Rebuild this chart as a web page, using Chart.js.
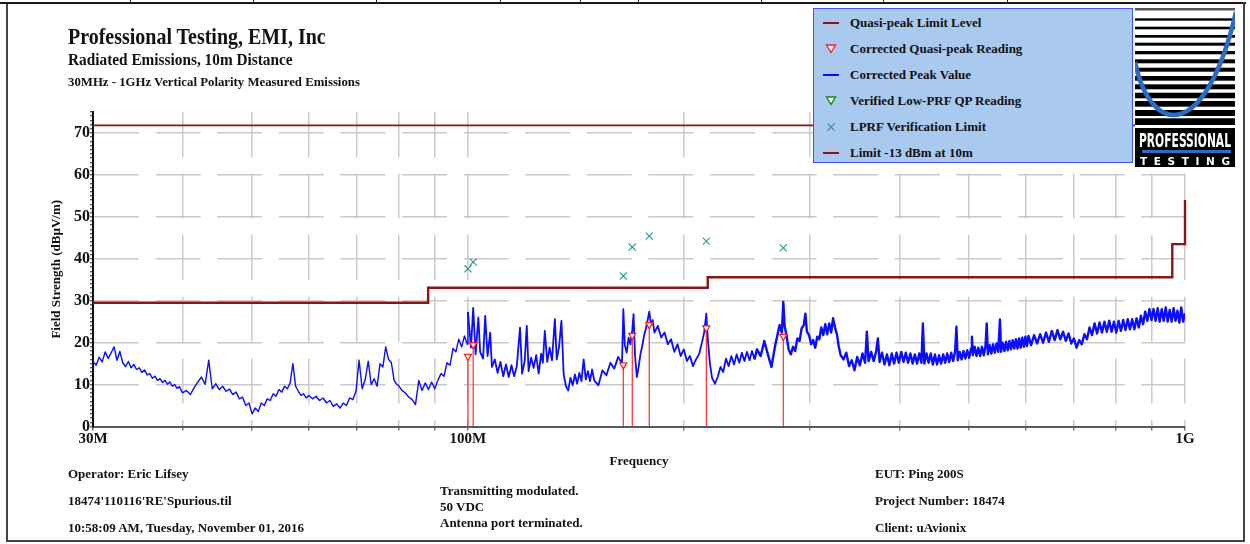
<!DOCTYPE html>
<html>
<head>
<meta charset="utf-8">
<script src="https://cdn.jsdelivr.net/npm/chart.js@4.4.1/dist/chart.umd.min.js"></script>
<style>
  html, body { margin: 0; padding: 0; background: #fff; }
  #page { position: relative; width: 1250px; height: 544px; overflow: hidden;
          font-family: "Liberation Serif", "Times New Roman", serif; font-weight: bold; color: #111; }
  #c { position: absolute; left: 0; top: 0; }
  .t { position: absolute; white-space: nowrap; line-height: 1; }
  .rule { position: absolute; background: #1a1a1a; }
  #legend { position: absolute; left: 813px; top: 8px; width: 318px; height: 153px;
            background: #a9c9ef; border: 1px solid #3d57f2; }
  .li { position: absolute; left: 0; width: 318px; height: 20px; }
  .li svg { position: absolute; left: 9px; top: 0; }
  .li span { position: absolute; left: 36px; top: 0; line-height: 20px; font-size: 13px; white-space: nowrap; }
  #logo { position: absolute; left: 1135px; top: 8px; }
</style>
</head>
<body>
<div id="page">
  <canvas id="c" width="1250" height="544"></canvas>

  <!-- report frame -->
  <div class="rule" style="left:0;top:2px;width:1246px;height:2px;"></div>
  <div class="rule" style="left:130px;top:0;width:1px;height:3px;"></div>
  <div class="rule" style="left:253px;top:0;width:1px;height:3px;"></div>
  <div class="rule" style="left:376px;top:0;width:1px;height:3px;"></div>
  <div class="rule" style="left:500px;top:0;width:1px;height:3px;"></div>
  <div class="rule" style="left:580px;top:0;width:1px;height:3px;"></div>
  <div class="rule" style="left:638px;top:0;width:1px;height:3px;"></div>
  <div class="rule" style="left:761px;top:0;width:1px;height:3px;"></div>
  <div class="rule" style="left:883px;top:0;width:1px;height:3px;"></div>
  <div class="rule" style="left:1007px;top:0;width:1px;height:3px;"></div>
  <div class="rule" style="left:6px;top:4px;width:2px;height:538px;background:#444;"></div>
  <div class="rule" style="left:6px;top:540px;width:1239px;height:2px;background:#444;"></div>
  <div class="rule" style="left:1243px;top:2px;width:2px;height:540px;background:#444;"></div>

  <!-- header -->
  <div class="t" style="left:68px;top:25px;font-size:23.5px;transform:scaleX(0.85);transform-origin:0 0;">Professional Testing, EMI, Inc</div>
  <div class="t" style="left:68px;top:51px;font-size:17.5px;transform:scaleX(0.875);transform-origin:0 0;">Radiated Emissions, 10m Distance</div>
  <div class="t" style="left:68px;top:75.5px;font-size:12.8px;">30MHz - 1GHz Vertical Polarity Measured Emissions</div>

  <!-- footer -->
  <div class="t" style="left:68px;top:466.5px;font-size:13px;">Operator: Eric Lifsey</div>
  <div class="t" style="left:68px;top:493.5px;font-size:13px;">18474'110116'RE'Spurious.til</div>
  <div class="t" style="left:68px;top:520.5px;font-size:13px;">10:58:09 AM, Tuesday, November 01, 2016</div>
  <div class="t" style="left:440px;top:483.5px;font-size:13px;">Transmitting modulated.</div>
  <div class="t" style="left:440px;top:499.5px;font-size:13px;">50 VDC</div>
  <div class="t" style="left:440px;top:515.5px;font-size:13px;">Antenna port terminated.</div>
  <div class="t" style="left:875px;top:466.5px;font-size:13px;">EUT: Ping 200S</div>
  <div class="t" style="left:875px;top:493.5px;font-size:13px;">Project Number: 18474</div>
  <div class="t" style="left:875px;top:520.5px;font-size:13px;">Client: uAvionix</div>

  <div id="legend"></div>

  <!-- company logo -->
  <svg id="logo" width="100" height="159" viewBox="0 0 100 159">
    <defs><clipPath id="stripeClip"><rect x="0" y="0" width="100" height="119"/></clipPath></defs>
    <rect x="0" y="0" width="100" height="159" fill="#fff"/>
    <rect x="0" y="0" width="100" height="2.5" fill="#555"/>
    <rect x="0" y="10.3" width="100" height="2.4" fill="#000"/>
    <rect x="0" y="18.7" width="100" height="2.6" fill="#000"/>
    <rect x="0" y="27" width="100" height="2.7" fill="#000"/>
    <rect x="0" y="34.7" width="100" height="3" fill="#000"/>
    <rect x="0" y="43" width="100" height="3.3" fill="#000"/>
    <rect x="0" y="51.3" width="100" height="4" fill="#000"/>
    <rect x="0" y="59.7" width="100" height="4" fill="#000"/>
    <rect x="0" y="68" width="100" height="4.7" fill="#000"/>
    <rect x="0" y="76.3" width="100" height="5" fill="#000"/>
    <rect x="0" y="84.7" width="100" height="5.6" fill="#000"/>
    <rect x="0" y="93" width="100" height="5.7" fill="#000"/>
    <rect x="0" y="102" width="100" height="6" fill="#000"/>
    <rect x="0" y="110.3" width="100" height="6.7" fill="#000"/>
    <rect x="0" y="120" width="100" height="39" fill="#000"/>
    <path d="M0 54 C15 127 70 137 101 4" fill="none" stroke="#2e6bc6" stroke-width="4.6" clip-path="url(#stripeClip)"/>
    <text x="4" y="139" fill="#fff" font-family="'DejaVu Sans Condensed','Liberation Sans Narrow','DejaVu Sans',sans-serif"
          font-weight="bold" font-size="19" textLength="92" lengthAdjust="spacingAndGlyphs">PROFESSIONAL</text>
    <rect x="7" y="142" width="89" height="3" fill="#2e6bc6"/>
    <text x="5" y="157" fill="#fff" font-family="'DejaVu Sans','Liberation Sans',sans-serif"
          font-weight="bold" font-size="10.5" textLength="90" lengthAdjust="spacing">TESTING</text>
  </svg>
</div>

<script>
// Frequency axis (MHz): gridline positions and the ones that carry a label
const freqTicks = [30, 40, 50, 60, 70, 80, 90, 100, 200, 300, 400, 500, 600, 700, 800, 900, 1000];
const freqTickLabels = { 30: '30M', 100: '100M', 1000: '1G' };

// Quasi-peak limit level, Class B at 10 m (step corners, MHz / dBµV/m)
const qpLimitFreq  = [30, 88, 88, 216, 216, 960, 960, 1000, 1000];
const qpLimitLevel = [29.5, 29.5, 33.1, 33.1, 35.6, 35.6, 43.5, 43.5, 54.0];

// -13 dBm EIRP expressed as field strength at 10 m
const eirpLimitFreq  = [30, 1000];
const eirpLimitLevel = [71.8, 71.8];

// Corrected quasi-peak readings
const qpFreq  = [100.0, 101.7, 164.7, 169.5, 179.0, 215.0, 275.3];
const qpLevel = [16.7, 19.5, 14.7, 21.7, 24.3, 23.5, 21.5];

// Low-PRF verification limit at each quasi-peak frequency
const lprfLevel = [37.6, 39.2, 35.9, 42.8, 45.4, 44.2, 42.6];

// Verified low-PRF QP readings (none recorded in this sweep)
const verifiedFreq  = [];
const verifiedLevel = [];

// Corrected peak sweep, [MHz, dBµV/m]
const peakSweepLow = [
  [30.0,15.6],[30.3,14.6],[30.6,16.5],[30.9,15.4],[31.2,17.8],[31.5,16.2],[31.8,17.6],[32.1,19.0],[32.4,15.8],[32.7,17.9],
  [33.0,15.2],[33.3,14.3],[33.6,15.5],[33.9,14.0],[34.2,14.8],[34.5,13.6],[34.8,14.0],[35.1,12.9],[35.4,13.5],[35.7,12.3],
  [36.0,12.6],[36.3,11.5],[36.6,12.0],[36.9,11.0],[37.2,11.4],[37.5,10.5],[37.8,11.0],[38.1,10.1],[38.4,10.6],[38.7,9.6],
  [39.0,10.0],[39.3,9.1],[39.6,9.5],[39.9,8.3],
  [40.0,8.0],[40.5,8.6],[41.0,7.6],[41.5,9.2],[42.0,10.6],[42.5,11.8],[43.0,10.0],[43.5,15.8],[44.0,9.0],[44.5,10.2],
  [45.0,8.8],[45.5,9.6],[46.0,8.4],[46.5,8.9],[47.0,7.6],[47.5,8.2],[48.0,6.6],[48.5,7.0],[49.0,5.0],[49.5,5.6],
  [50.0,3.0],[50.5,4.4],[51.0,3.6],[51.5,5.6],[52.0,5.0],[52.5,6.6],[53.0,6.2],[53.5,7.8],[54.0,7.2],[54.5,8.8],
  [55.0,8.2],[55.5,9.6],[56.0,9.0],[56.5,10.4],[57.0,15.0],[57.5,9.6],[58.0,8.4],[58.5,7.4],[59.0,7.8],[59.5,6.8],
  [60.0,7.4],[60.7,6.6],[61.4,7.2],[62.1,6.2],[62.8,6.8],[63.5,5.6],[64.2,6.2],[64.9,4.8],[65.6,5.4],[66.3,4.4],
  [67.0,5.6],[67.7,5.0],[68.4,6.8],[69.1,6.4],[69.8,8.4],[70.5,15.8],[71.2,9.0],[71.9,11.2],[72.6,15.6],[73.3,10.0],
  [74.0,11.4],[74.7,9.6],[75.4,15.0],[76.1,14.2],[76.8,19.0],[77.5,16.0],[78.2,15.2],[78.9,11.0],[79.6,10.0],
  [80.0,9.8],[80.9,8.6],[81.8,8.0],[82.7,7.0],[83.6,6.4],[84.5,5.2],[85.4,11.0],[86.3,8.6],[87.2,10.4],[88.1,8.8],
  [89.0,10.6],[89.9,9.0],[90.8,11.0],[91.7,12.6],[92.6,12.0],[93.5,15.2],[94.4,14.6],[95.3,18.6],[96.2,17.8],[97.1,20.8],
  [98.0,19.0],[98.9,21.6],[99.8,19.6]
];
const peakSweepMid = [
  [100,27.3],[101,18.8],[101.7,28.3],[102.5,17.2],[103.4,26.0],[104,17.8],[105,16.2],[105.7,26.4],[106.5,16.8],[107.4,22.4],
  [108,14.2],[109,16.0],[110,12.8],[111,15.4],[112,12.0],[113,14.8],[114,11.8],[115,14.6],[116,12.0],[117,14.4],
  [118.2,23.6],[119,12.6],[120,15.6],[120.8,24.0],[121.5,13.2],[122.5,16.4],[123.5,14.0],[124.5,17.0],[125.5,12.6],[126.5,17.4],
  [127.2,15.2],[128,22.8],[129,15.4],[130,18.8],[131,15.8],[132.2,25.6],[133,16.0],[134,19.0],[135,25.2],[136,12.4],
  [137,9.6],[138,8.6],[139,11.6],[140,9.8],[141,12.4],[142,10.2],[143,12.8],[144,10.8],[145,16.0],[146,11.2],
  [147,13.2],[148,10.8],[149,13.6],
  [150,11.0],[152,9.8],[154,13.4],[156,12.2],[158,15.2],[160,13.8],[162,16.6],[164,15.0],[164.7,28.0],[165.5,19.4],
  [166.5,17.6],[167.5,21.2],[168.5,19.6],[169.5,23.0],[170.2,26.8],[171,17.0],[172,11.8],[173,14.2],[174,17.2],[175,19.2],
  [176,21.6],[177,23.2],[178,25.2],[179,27.4],[180,24.2],[181,25.4],[182,22.4],[184,24.0],[186,21.2],[188,22.4],
  [190,19.6],[192,20.8],[194,17.8],[196,19.6],[198,16.8],[200,18.4],[202,15.6],[204,16.8],[206,14.4],[208,16.0],
  [210,17.2],[212,20.0],[213.5,22.4],[215,26.9],[216,21.0],[217.5,15.0],[219,11.6],[221,10.2],[223,11.8],[225,14.2],
  [227,13.0],[229,16.2],[231,14.4],[233,16.8],[235,14.8],[237,17.2],[239,15.2],[241,17.6],[243,15.6],[245,17.8],
  [247,15.8],[249,18.0]
];
const peakSweepHigh = [
  [251,16.0],[253,18.4],[256,16.8],[259,20.4],[262,17.2],[265,14.2],[268,19.0],[270,21.6],[272,24.2],[274,22.4],
  [275.3,29.7],[276.5,23.8],[278,22.0],[280,18.4],[282,17.2],[284,19.0],[286,18.0],[288,21.0],[290,20.4],[292,23.4],
  [294,24.2],[295.5,26.9],[297,22.6],[299,21.8],[301,19.6],[303,20.6],[305,18.8],[307,21.4],[309,20.8],[311,23.6],
  [313,21.8],[315,24.4],[317,22.0],[319,24.6],[321,22.4],[323,25.8],[325,23.6],[327,22.0],[329,19.0],[331,17.0],
  [334,16.0],[337,17.6],[340,14.4],[343,15.8],[346,13.4],[349,16.6],[352,14.6],[355,17.4],[358,15.2],[360,22.6],
  [362,15.6],[365,17.8],[368,15.6],[371,18.0],[373,21.0],[375,15.4],[378,17.6],[381,14.8],[384,17.2],[387,14.6],
  [390,17.4],[393,15.0],[396,17.6],[399,15.2],[402,17.8],[405,15.4],[408,17.6],[411,15.2],[414,17.4],[417,15.0],
  [420,17.2],[423,15.0],[426,17.4],[429,15.2],[431,24.6],[433,15.0],[436,17.4],[439,15.2],[442,17.4],[445,14.8],
  [448,17.2],[451,14.8],[454,17.0],[457,15.0],[460,17.2],[463,15.2],[466,17.4],[469,15.4],[472,17.6],[475,15.6],
  [478,18.0],[480,23.8],[482,15.8],[485,17.8],[488,16.0],[491,18.0],[494,16.2],[497,18.2],[500,16.4],
  [503,18.6],[504.5,21.4],[506,17.0],[509,19.0],[512,16.8],[515,18.8],[518,16.8],[521,19.0],[524,17.0],[527,19.2],
  [529,24.6],[531,17.2],[534,19.4],[537,17.4],[540,19.6],[543,17.6],[546,19.8],[549,17.8],[552,25.5],[554,17.8],
  [557,20.0],[560,18.0],[563,20.2],[566,18.2],[569,20.4],[572,18.4],[575,20.6],[578,18.6],[581,20.8],[584,18.6],
  [587,21.0],[590,18.8],[593,21.2],[596,19.0],[599,21.4],[602,19.2],[605,21.6],[610,19.4],[616,21.8],[622,19.8],
  [628,22.0],[634,20.0],[640,22.4],[646,20.2],[652,22.8],[658,20.6],[664,23.0],[670,20.8],[676,22.6],[682,20.4],
  [688,22.2],[694,19.8],[700,21.0],[706,18.8],[712,20.6],[718,19.6],[724,22.0],[730,20.8],[736,23.6],[742,21.8],
  [748,24.6],[754,22.2],[760,24.8],[766,22.4],[772,25.0],[778,22.6],[784,25.2],[790,22.6],[796,25.0],[802,22.4],
  [808,25.2],[814,22.8],[820,25.4],[826,23.0],[832,25.6],[838,23.2],[844,25.6],[850,23.2],[856,25.8],[862,23.6],
  [868,26.4],[874,24.4],[880,27.4],[886,25.2],[892,28.0],[898,25.4],[904,28.0],[910,25.2],[916,28.2],[922,25.0],
  [928,28.0],[934,25.2],[940,28.4],[946,25.0],[952,27.8],[958,25.0],[964,28.2],[970,25.2],[976,27.6],[982,24.8],
  [988,28.4],[994,25.0],[1000,27.0]
];

const serif = "'Liberation Serif','Times New Roman',serif";
const GRID_DASH = [45, 16.6];
const toXY = (fs, vs) => fs.map((x, i) => ({ x, y: vs[i] }));
const sweep = peakSweepLow.concat(peakSweepMid, peakSweepHigh).map(([x, y]) => ({ x, y }));
// vertical stems from the axis up to each quasi-peak reading
const stems = qpFreq.flatMap((f, i) => [{ x: f, y: 0 }, { x: f, y: qpLevel[i] }, { x: f, y: null }]);

// the sweep is denser above 100 MHz, so its trace is drawn heavier there
const sweepWidth = ctx => {
  const f = ctx.p0.parsed.x;
  return f < 100 ? 1.4 : (f < 250 ? 1.8 : 2.4);
};

const datasets = [
  { label: 'Quasi-peak Limit Level', data: toXY(qpLimitFreq, qpLimitLevel), showLine: true,
    borderColor: '#8c1414', borderWidth: 2.4, pointRadius: 0, clip: 6, order: 5, legendIcon: 'line' },
  { label: 'Corrected Quasi-peak Reading', data: toXY(qpFreq, qpLevel), showLine: false,
    pointStyle: 'triangle', rotation: 180, pointRadius: 4, borderColor: '#ff1c1c', backgroundColor: '#ffffff',
    borderWidth: 1.3, order: 1, legendIcon: 'tri' },
  { label: 'Corrected Peak Value', data: sweep, showLine: true,
    borderColor: '#0c0cff', borderWidth: 1.4, borderJoinStyle: 'round', pointRadius: 0, order: 6,
    segment: { borderWidth: sweepWidth }, legendIcon: 'line' },
  { label: 'Verified Low-PRF QP Reading', data: toXY(verifiedFreq, verifiedLevel), showLine: false,
    pointStyle: 'triangle', rotation: 180, pointRadius: 4, borderColor: '#138a13', backgroundColor: '#ffffff',
    borderWidth: 1.3, order: 1, legendIcon: 'tri' },
  { label: 'LPRF Verification Limit', data: toXY(qpFreq, lprfLevel), showLine: false,
    pointStyle: 'crossRot', pointRadius: 5, borderColor: '#2f9b9b', borderWidth: 1.2, order: 2, legendIcon: 'cross' },
  { label: 'Limit -13 dBm at 10m', data: toXY(eirpLimitFreq, eirpLimitLevel), showLine: true,
    borderColor: '#8c1414', borderWidth: 1.8, pointRadius: 0, order: 5, legendIcon: 'line' },
  { label: 'QP stems', inLegend: false, data: stems, showLine: true, spanGaps: false,
    borderColor: '#ff2a2a', borderWidth: 1.2, pointRadius: 0, order: 3 }
];

const chart = new Chart(document.getElementById('c'), {
  type: 'scatter',
  data: { datasets },
  options: {
    responsive: false,
    animation: false,
    events: [],
    layout: { padding: { left: 0, top: 112, right: 65, bottom: 0 } },
    plugins: { legend: { display: false }, tooltip: { enabled: false } },
    scales: {
      x: {
        type: 'logarithmic', min: 30, max: 1000,
        afterBuildTicks: s => { s.ticks = freqTicks.map(v => ({ value: v })); },
        afterFit: s => { s.height = 117.5; },
        ticks: { autoSkip: false, maxRotation: 0, minRotation: 0, padding: 0, color: '#111',
                 font: { family: serif, size: 15, weight: 'bold' },
                 callback: v => freqTickLabels[v] || '' },
        grid: { color: '#cacaca', lineWidth: 1.5, tickLength: 4, tickColor: '#555', tickWidth: 1.2 },
        border: { display: true, color: '#5a5a5a', width: 2, dash: GRID_DASH },
        title: { display: true, text: 'Frequency', color: '#111',
                 font: { family: serif, size: 13, weight: 'bold' }, padding: { top: 0, bottom: 75 } }
      },
      y: {
        type: 'linear', min: 0, max: 75,
        afterFit: s => { s.width = 93; },
        ticks: { stepSize: 1, autoSkip: false, padding: 0, color: '#111',
                 font: { family: serif, size: 16, weight: 'bold' },
                 callback: v => (v % 10 === 0 ? String(v) : '') },
        grid: { color: c => (c.tick && c.tick.value % 10 === 0 ? '#cacaca' : 'rgba(0,0,0,0)'),
                lineWidth: 1.5, tickLength: 3, tickColor: '#222', tickWidth: 1 },
        border: { display: true, color: '#111', width: 2, dash: GRID_DASH },
        title: { display: true, text: 'Field Strength (dBµV/m)', color: '#111',
                 font: { family: serif, size: 13, weight: 'bold' }, padding: { top: 49, bottom: 0 } }
      }
    }
  }
});

// Legend panel built from the chart's datasets
function legendIcon(ds) {
  const c = ds.borderColor;
  if (ds.legendIcon === 'tri') {
    return `<svg width="16" height="20"><polygon points="3.5,6 12.5,6 8,13.5" fill="#fff" stroke="${c}" stroke-width="1.4"/></svg>`;
  }
  if (ds.legendIcon === 'cross') {
    return `<svg width="16" height="20"><path d="M4.5 6.5 L11.5 13.5 M11.5 6.5 L4.5 13.5" stroke="${c}" stroke-width="1.2"/></svg>`;
  }
  return `<svg width="16" height="20"><line x1="0" y1="10" x2="16" y2="10" stroke="${c}" stroke-width="2"/></svg>`;
}
const legendBox = document.getElementById('legend');
chart.data.datasets.filter(d => d.inLegend !== false).forEach((d, i) => {
  const row = document.createElement('div');
  row.className = 'li';
  row.style.top = (4 + 26 * i) + 'px';
  row.innerHTML = legendIcon(d);
  const span = document.createElement('span');
  span.textContent = d.label;
  row.appendChild(span);
  legendBox.appendChild(row);
});
</script>
</body>
</html>
